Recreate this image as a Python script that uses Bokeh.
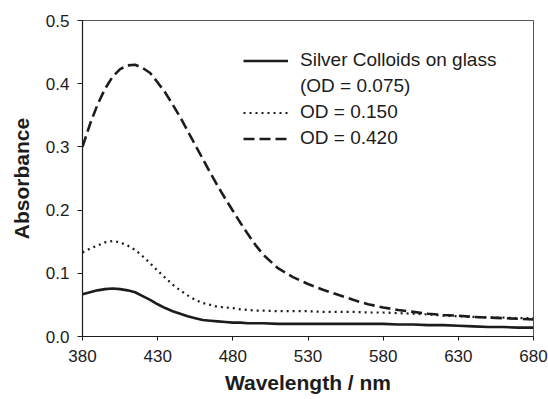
from bokeh.plotting import figure
from bokeh.models import Legend, LegendItem, FixedTicker, NumeralTickFormatter
from bokeh.embed import file_html
from bokeh.resources import INLINE

# Wavelength (nm)
wavelength = [380, 385, 390, 395, 400, 405, 410, 415, 420, 425, 430, 435, 440, 445, 450,
              455, 460, 465, 470, 475, 480, 485, 490, 495, 500,
              510, 520, 530, 540, 550, 560, 570, 580, 590, 600, 610, 620, 630, 640, 650,
              660, 670, 680]

# Absorbance, silver colloids on glass (OD = 0.075)
abs_od075 = [0.067, 0.070, 0.073, 0.075, 0.076, 0.075, 0.073, 0.070, 0.064, 0.058,
             0.051, 0.045, 0.040, 0.036, 0.032, 0.029, 0.026, 0.025, 0.024, 0.023,
             0.022, 0.022, 0.021, 0.021, 0.021,
             0.020, 0.020, 0.020, 0.020, 0.020, 0.020, 0.020, 0.020, 0.019, 0.019,
             0.018, 0.018, 0.017, 0.016, 0.015, 0.015, 0.014, 0.014]

# Absorbance, OD = 0.150
abs_od150 = [0.133, 0.139, 0.144, 0.149, 0.151, 0.149, 0.144, 0.137, 0.127, 0.116,
             0.104, 0.093, 0.082, 0.073, 0.065, 0.058, 0.053, 0.050, 0.047, 0.046,
             0.045, 0.043, 0.042, 0.041, 0.041,
             0.040, 0.040, 0.040, 0.039, 0.039, 0.039, 0.038, 0.038, 0.037, 0.036,
             0.035, 0.033, 0.032, 0.031, 0.030, 0.030, 0.029, 0.029]

# Absorbance, OD = 0.420
abs_od420 = [0.300, 0.336, 0.367, 0.392, 0.411, 0.423, 0.429, 0.430, 0.425, 0.417,
             0.402, 0.386, 0.367, 0.347, 0.325, 0.303, 0.281, 0.259, 0.238, 0.218,
             0.199, 0.180, 0.162, 0.145, 0.130,
             0.108, 0.094, 0.083, 0.074, 0.066, 0.058, 0.051, 0.046, 0.042, 0.039,
             0.036, 0.034, 0.033, 0.031, 0.030, 0.029, 0.028, 0.027]

legend_labels = ["Silver Colloids on glass", "(OD = 0.075)", "OD = 0.150", "OD = 0.420"]
x_ticks = [380, 430, 480, 530, 580, 630, 680]
y_ticks = [0.0, 0.1, 0.2, 0.3, 0.4, 0.5]

FONT = "Liberation Sans"
INK = "#1c1c1c"

p = figure(frame_width=451, frame_height=316,
           x_range=(380, 680), y_range=(0, 0.5),
           output_backend="svg", toolbar_location=None,
           min_border_left=82, min_border_top=20, min_border_right=15, min_border_bottom=63,
           background_fill_color="white", border_fill_color="white")

p.xgrid.visible = False
p.ygrid.visible = False
p.outline_line_color = "#555555"
p.outline_line_width = 1

for ax in (p.xaxis[0], p.yaxis[0]):
    ax.axis_line_color = INK
    ax.axis_line_width = 1.2
    ax.major_tick_line_color = INK
    ax.major_tick_in = 0
    ax.minor_tick_line_color = None
    ax.major_label_text_font = FONT
    ax.major_label_text_font_size = "17px"
    ax.major_label_text_color = INK
    ax.axis_label_text_font = FONT
    ax.axis_label_text_font_size = "21px"
    ax.axis_label_text_font_style = "bold"
    ax.axis_label_text_color = INK

p.xaxis.ticker = FixedTicker(ticks=x_ticks)
p.yaxis.ticker = FixedTicker(ticks=y_ticks)
p.yaxis.formatter = NumeralTickFormatter(format="0.0")
p.xaxis.major_tick_out = 4
p.yaxis.major_tick_out = 5
p.xaxis.major_label_standoff = 9
p.yaxis.major_label_standoff = 8
p.xaxis.axis_label = "Wavelength / nm"
p.yaxis.axis_label = "Absorbance"
p.xaxis.axis_label_standoff = 6
p.yaxis.axis_label_standoff = 10

r1 = p.line(wavelength, abs_od075, line_width=2.6, line_color=INK)
r_blank = p.line([], [], line_alpha=0)
r2 = p.line(wavelength, abs_od150, line_width=2.2, line_color=INK, line_dash="2 4")
r3 = p.line(wavelength, abs_od420, line_width=2.6, line_color=INK, line_dash="11 5")

legend = Legend(items=[
    LegendItem(label=legend_labels[0], renderers=[r1]),
    LegendItem(label=legend_labels[1], renderers=[r_blank]),
    LegendItem(label=legend_labels[2], renderers=[r2]),
    LegendItem(label=legend_labels[3], renderers=[r3]),
], location=(161, 187))
legend.glyph_width = 45
legend.glyph_height = 21
legend.label_height = 21
legend.spacing = 4
legend.padding = 0
legend.margin = 0
legend.label_standoff = 12
legend.border_line_color = None
legend.background_fill_alpha = 0
legend.label_text_font = FONT
legend.label_text_font_size = "19px"
legend.label_text_color = INK
p.add_layout(legend)

open("out.html", "w").write(file_html(p, INLINE))
